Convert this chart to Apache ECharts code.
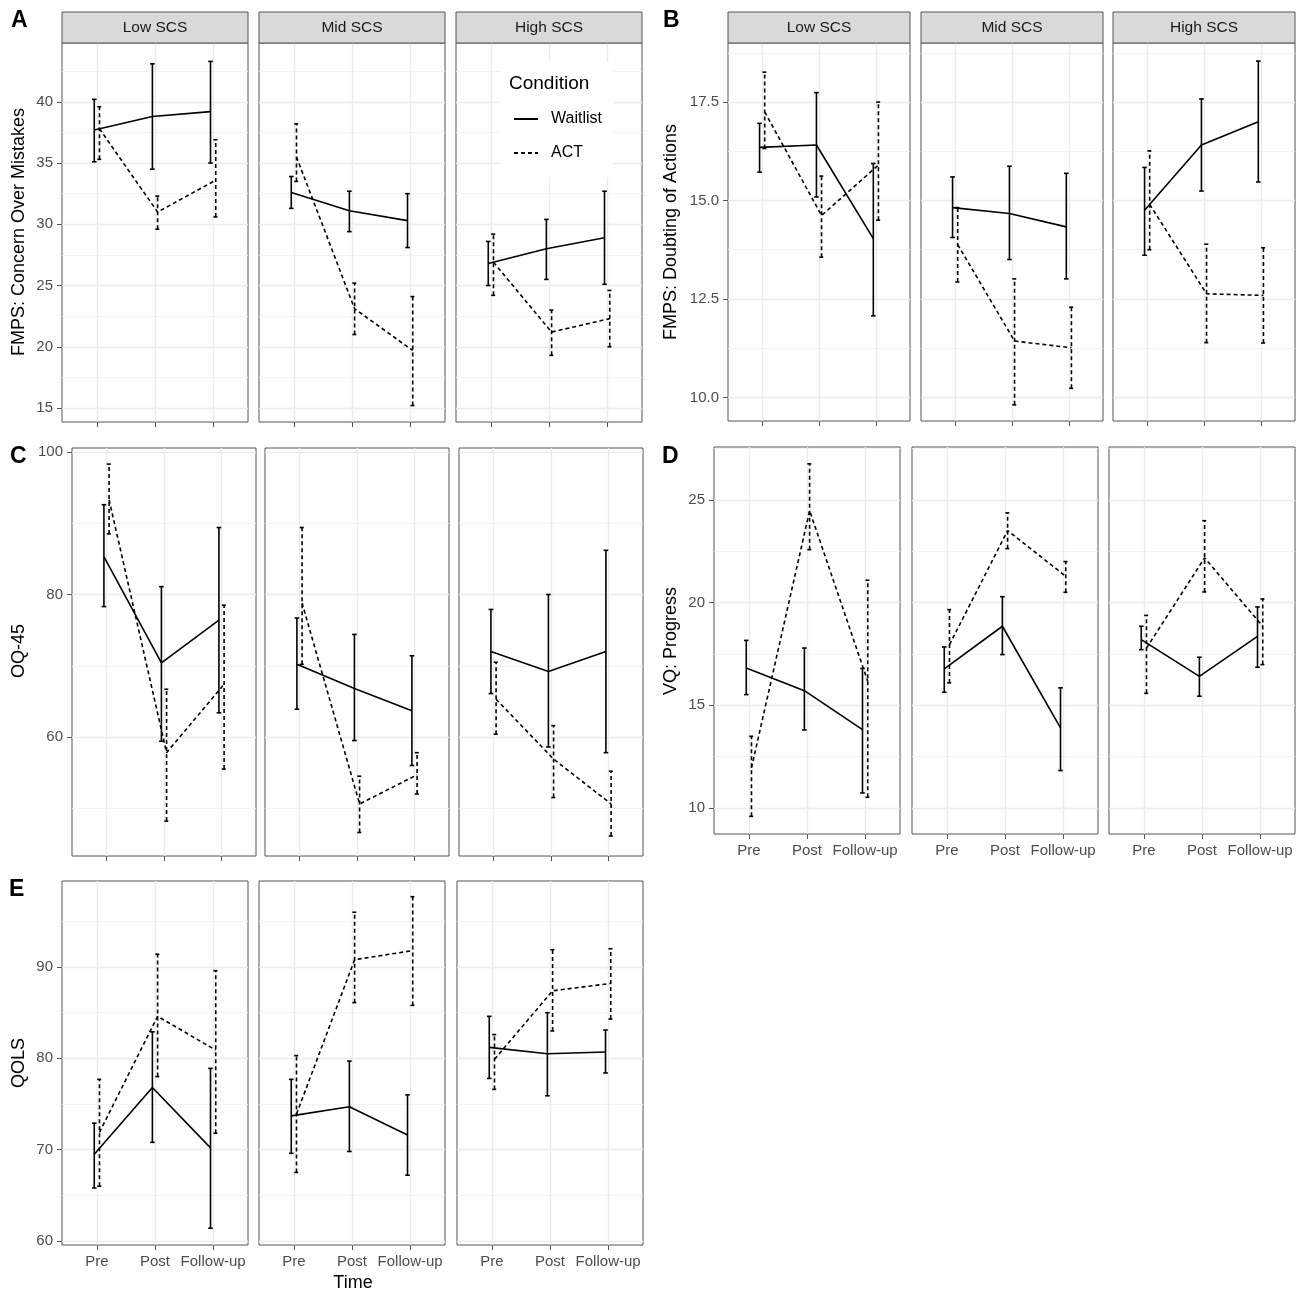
<!DOCTYPE html>
<html>
<head>
<meta charset="utf-8">
<script src="https://cdn.jsdelivr.net/npm/echarts@6/dist/echarts.min.js"></script>
<style>
  html, body { margin: 0; padding: 0; background: #fff; }
  #chart { width: 1299px; height: 1294px; }
</style>
</head>
<body>
<div id="chart"></div>
<script>
var timeLabels = ['Pre', 'Post', 'Follow-up'];
var scsGroups = ['Low SCS', 'Mid SCS', 'High SCS'];
var conditions = ['Waitlist', 'ACT'];

// rows = Low / Mid / High SCS, columns = Pre / Post / Follow-up
// A  FMPS: Concern Over Mistakes
var cmWaitMean = [[37.7, 38.8, 39.2], [32.6, 31.1, 30.3], [26.8, 28.0, 28.9]];
var cmWaitLow  = [[35.1, 34.5, 35.0], [31.3, 29.4, 28.1], [25.0, 25.5, 25.1]];
var cmWaitHigh = [[40.2, 43.1, 43.3], [33.9, 32.7, 32.5], [28.6, 30.4, 32.7]];
var cmActMean  = [[37.8, 31.0, 33.6], [35.5, 23.1, 19.7], [26.9, 21.2, 22.3]];
var cmActLow   = [[35.3, 29.6, 30.6], [33.5, 21.0, 15.2], [24.2, 19.3, 20.0]];
var cmActHigh  = [[39.6, 32.3, 36.9], [38.2, 25.2, 24.1], [29.2, 23.0, 24.6]];
var cmTicks = [15, 20, 25, 30, 35, 40];
var cmMinor = [17.5, 22.5, 27.5, 32.5, 37.5, 42.5];

// B  FMPS: Doubting of Actions
var daWaitMean = [[16.35, 16.41, 14.03], [14.82, 14.67, 14.33], [14.75, 16.41, 17.0]];
var daWaitLow  = [[15.72, 15.09, 12.07], [14.06, 13.5, 13.01], [13.61, 15.24, 15.47]];
var daWaitHigh = [[16.96, 17.74, 15.94], [15.6, 15.87, 15.69], [15.84, 17.58, 18.54]];
var daActMean  = [[17.25, 14.62, 15.9], [13.88, 11.43, 11.26], [14.9, 12.63, 12.59]];
var daActLow   = [[16.32, 13.56, 14.5], [12.93, 9.81, 10.23], [13.75, 11.39, 11.38]];
var daActHigh  = [[18.26, 15.62, 17.5], [14.82, 13.01, 12.29], [16.26, 13.89, 13.8]];
var daTicks = [10, 12.5, 15, 17.5];
var daMinor = [11.25, 13.75, 16.25, 18.75];

// C  OQ-45
var oqWaitMean = [[85.3, 70.4, 76.4], [70.2, 66.8, 63.7], [72.0, 69.2, 72.0]];
var oqWaitLow  = [[78.3, 59.4, 63.4], [63.9, 59.5, 56.0], [66.1, 58.6, 57.8]];
var oqWaitHigh = [[92.6, 81.1, 89.4], [76.7, 74.4, 71.4], [77.9, 80.0, 86.2]];
var oqActMean  = [[93.3, 57.8, 67.4], [78.8, 50.6, 54.7], [65.3, 56.9, 50.6]];
var oqActLow   = [[88.5, 48.2, 55.5], [70.2, 46.6, 52.0], [60.4, 51.5, 46.1]];
var oqActHigh  = [[98.3, 66.7, 78.5], [89.4, 54.5, 57.8], [70.5, 61.6, 55.2]];
var oqTicks = [60, 80, 100];
var oqMinor = [50, 70, 90];

// D  VQ: Progress
var vqWaitMean = [[16.82, 15.71, 13.81], [16.77, 18.85, 13.9], [18.2, 16.41, 18.36]];
var vqWaitLow  = [[15.52, 13.8, 10.73], [15.63, 17.47, 11.82], [17.71, 15.44, 16.85]];
var vqWaitHigh = [[18.16, 17.79, 16.79], [17.84, 20.29, 15.85], [18.85, 17.34, 19.79]];
var vqActMean  = [[11.95, 24.48, 16.17], [17.95, 23.51, 21.28], [17.79, 22.18, 18.85]];
var vqActLow   = [[9.59, 22.58, 10.52], [16.09, 22.63, 20.5], [15.58, 20.52, 16.98]];
var vqActHigh  = [[13.49, 26.76, 21.09], [19.66, 24.37, 22.0], [19.38, 23.99, 20.18]];
var vqTicks = [10, 15, 20, 25];
var vqMinor = [12.5, 17.5, 22.5, 27.5];

// E  QOLS
var qlWaitMean = [[69.5, 76.8, 70.2], [73.7, 74.7, 71.6], [81.2, 80.5, 80.7]];
var qlWaitLow  = [[65.8, 70.8, 61.4], [69.6, 69.8, 67.2], [77.8, 75.9, 78.4]];
var qlWaitHigh = [[72.9, 82.9, 78.9], [77.7, 79.7, 76.0], [84.6, 85.0, 83.1]];
var qlActMean  = [[71.9, 84.6, 80.9], [73.9, 90.8, 91.8], [79.9, 87.4, 88.2]];
var qlActLow   = [[66.0, 78.0, 71.8], [67.5, 86.1, 85.8], [76.6, 83.0, 84.3]];
var qlActHigh  = [[77.7, 91.4, 89.6], [80.3, 96.0, 97.7], [82.6, 91.9, 92.0]];
var qlTicks = [60, 70, 80, 90];
var qlMinor = [65, 75, 85, 95];

var FONT = '"Liberation Sans", Arial, Helvetica, sans-serif';
var dodge = 0.045;
var capHalf = 2.3;
var xTickValues = timeLabels.map(function (t, i) { return i + 1; });

var panels = [
    {letter: 'A', lx: 20, ly: 21, title: 'FMPS: Concern Over Mistakes', tx: 19, ty: 232,
     lefts: [62, 259, 456], width: 186, top: 43, height: 379, min: 13.86, max: 44.8,
     ticks: cmTicks, minor: cmMinor, dec: 0, strip: true, xlab: false,
     wait: [cmWaitMean, cmWaitLow, cmWaitHigh], act: [cmActMean, cmActLow, cmActHigh]},
    {letter: 'B', lx: 672, ly: 21, title: 'FMPS: Doubting of Actions', tx: 671, ty: 232,
     lefts: [728, 921, 1113], width: 182, top: 43, height: 378, min: 9.4, max: 19.0,
     ticks: daTicks, minor: daMinor, dec: 1, strip: true, xlab: false,
     wait: [daWaitMean, daWaitLow, daWaitHigh], act: [daActMean, daActLow, daActHigh]},
    {letter: 'C', lx: 19, ly: 457, title: 'OQ-45', tx: 19, ty: 651,
     lefts: [72, 265, 459], width: 184, top: 448, height: 408, min: 43.3, max: 100.56,
     ticks: oqTicks, minor: oqMinor, dec: 0, strip: false, xlab: false,
     wait: [oqWaitMean, oqWaitLow, oqWaitHigh], act: [oqActMean, oqActLow, oqActHigh]},
    {letter: 'D', lx: 671, ly: 457, title: 'VQ: Progress', tx: 671, ty: 641,
     lefts: [714, 912, 1109], width: 186, top: 447, height: 387, min: 8.73, max: 27.58,
     ticks: vqTicks, minor: vqMinor, dec: 0, strip: false, xlab: true,
     wait: [vqWaitMean, vqWaitLow, vqWaitHigh], act: [vqActMean, vqActLow, vqActHigh]},
    {letter: 'E', lx: 18, ly: 890, title: 'QOLS', tx: 19, ty: 1063,
     lefts: [62, 259, 457], width: 186, top: 881, height: 364, min: 59.56, max: 99.42,
     ticks: qlTicks, minor: qlMinor, dec: 0, strip: false, xlab: true,
     wait: [qlWaitMean, qlWaitLow, qlWaitHigh], act: [qlActMean, qlActLow, qlActHigh]}
];

function errorBar(dashed) {
    return function (params, api) {
        var x = api.value(0);
        var lo = api.coord([x, api.value(1)]);
        var hi = api.coord([x, api.value(2)]);
        function st() {
            return {stroke: '#000', lineWidth: 1.6, lineDash: dashed ? [4, 3] : null};
        }
        return {
            type: 'group',
            children: [
                {type: 'line', shape: {x1: lo[0], y1: lo[1], x2: hi[0], y2: hi[1]}, style: st()},
                {type: 'line', shape: {x1: lo[0] - capHalf, y1: lo[1], x2: lo[0] + capHalf, y2: lo[1]}, style: st()},
                {type: 'line', shape: {x1: hi[0] - capHalf, y1: hi[1], x2: hi[0] + capHalf, y2: hi[1]}, style: st()}
            ]
        };
    };
}

var grids = [], xAxes = [], yAxes = [], series = [], graphics = [];

panels.forEach(function (p) {
    graphics.push({type: 'text', left: p.lx - 9, top: p.ly - 12, z: 5,
        style: {text: p.letter, font: 'bold 23px ' + FONT, fill: '#000'}});
    graphics.push({type: 'text', x: p.tx, y: p.ty, rotation: Math.PI / 2, z: 5,
        style: {text: p.title, font: '18px ' + FONT, fill: '#000', align: 'center', verticalAlign: 'middle'}});

    scsGroups.forEach(function (grp, f) {
        var g = grids.length;
        grids.push({left: p.lefts[f], top: p.top, width: p.width, height: p.height,
            show: true, borderColor: '#555', borderWidth: 1, backgroundColor: '#fff'});

        if (p.strip) {
            graphics.push({type: 'rect', z: 1,
                shape: {x: p.lefts[f], y: 12, width: p.width, height: 31},
                style: {fill: '#D9D9D9', stroke: '#555', lineWidth: 1}});
            graphics.push({type: 'text', z: 2, x: p.lefts[f] + p.width / 2, y: 28,
                style: {text: grp, font: '15.5px ' + FONT, fill: '#1A1A1A', align: 'center', verticalAlign: 'middle'}});
        }

        xAxes.push({
            gridIndex: g, type: 'value', min: 0.4, max: 3.6,
            axisLine: {show: false},
            axisTick: {show: true, customValues: xTickValues, length: 5, lineStyle: {color: '#555', width: 1}},
            axisLabel: {show: p.xlab, customValues: xTickValues, margin: 9, color: '#4D4D4D', fontSize: 15, fontFamily: FONT,
                formatter: function (v) { return timeLabels[Math.round(v) - 1]; }},
            splitLine: {show: true, lineStyle: {color: '#EBEBEB', width: 1.4}}
        });
        yAxes.push({
            gridIndex: g, type: 'value', min: p.min, max: p.max,
            axisLine: {show: false},
            axisTick: {show: f === 0, customValues: p.ticks, length: 5, lineStyle: {color: '#555', width: 1}},
            axisLabel: {show: f === 0, customValues: p.ticks, margin: 9, color: '#4D4D4D', fontSize: 15, fontFamily: FONT,
                formatter: function (v) { return v.toFixed(p.dec); }},
            splitLine: {show: true, lineStyle: {color: '#EBEBEB', width: 1.4}}
        });
        yAxes.push({
            gridIndex: g, type: 'value', min: p.min, max: p.max, position: 'left',
            axisLine: {show: false},
            axisTick: {show: false, customValues: p.minor},
            axisLabel: {show: false, customValues: p.minor},
            splitLine: {show: true, lineStyle: {color: '#F2F2F2', width: 0.9}}
        });

        [p.wait, p.act].forEach(function (set, c) {
            var off = c === 0 ? -dodge : dodge;
            var dashed = c === 1;
            series.push({
                type: 'line', name: conditions[c], xAxisIndex: g, yAxisIndex: 2 * g,
                data: timeLabels.map(function (t, i) { return [i + 1 + off, set[0][f][i]]; }),
                symbol: 'none', silent: true, z: 3,
                itemStyle: {color: '#000'},
                lineStyle: {color: '#000', width: 1.6, type: dashed ? [4, 3] : 'solid'}
            });
            series.push({
                type: 'custom', name: conditions[c] + ' CI', xAxisIndex: g, yAxisIndex: 2 * g,
                data: timeLabels.map(function (t, i) { return [i + 1 + off, set[1][f][i], set[2][f][i]]; }),
                encode: {x: 0, y: [1, 2]}, silent: true, z: 3,
                renderItem: errorBar(dashed)
            });
        });
    });
});

// legend box inside panel A, High SCS
graphics.push({type: 'rect', z: 1, shape: {x: 500, y: 62, width: 113, height: 115}, style: {fill: '#fff'}});
graphics.push({type: 'text', z: 5, x: 509, y: 84,
    style: {text: 'Condition', font: '19px ' + FONT, fill: '#000', verticalAlign: 'middle'}});
graphics.push({type: 'text', z: 5, x: 353, y: 1283,
    style: {text: 'Time', font: '18px ' + FONT, fill: '#000', align: 'center', verticalAlign: 'middle'}});

var chart = echarts.init(document.getElementById('chart'));
chart.setOption({
    animation: false,
    backgroundColor: '#fff',
    textStyle: {fontFamily: FONT},
    grid: grids,
    xAxis: xAxes,
    yAxis: yAxes,
    legend: {
        data: conditions, orient: 'vertical', left: 508, top: 106,
        itemWidth: 24, itemHeight: 14, itemGap: 18, selectedMode: false,
        itemStyle: {opacity: 0},
        textStyle: {fontSize: 16, color: '#000', fontFamily: FONT, padding: [0, 0, 0, 8]}
    },
    graphic: graphics,
    series: series
});
</script>
</body>
</html>
